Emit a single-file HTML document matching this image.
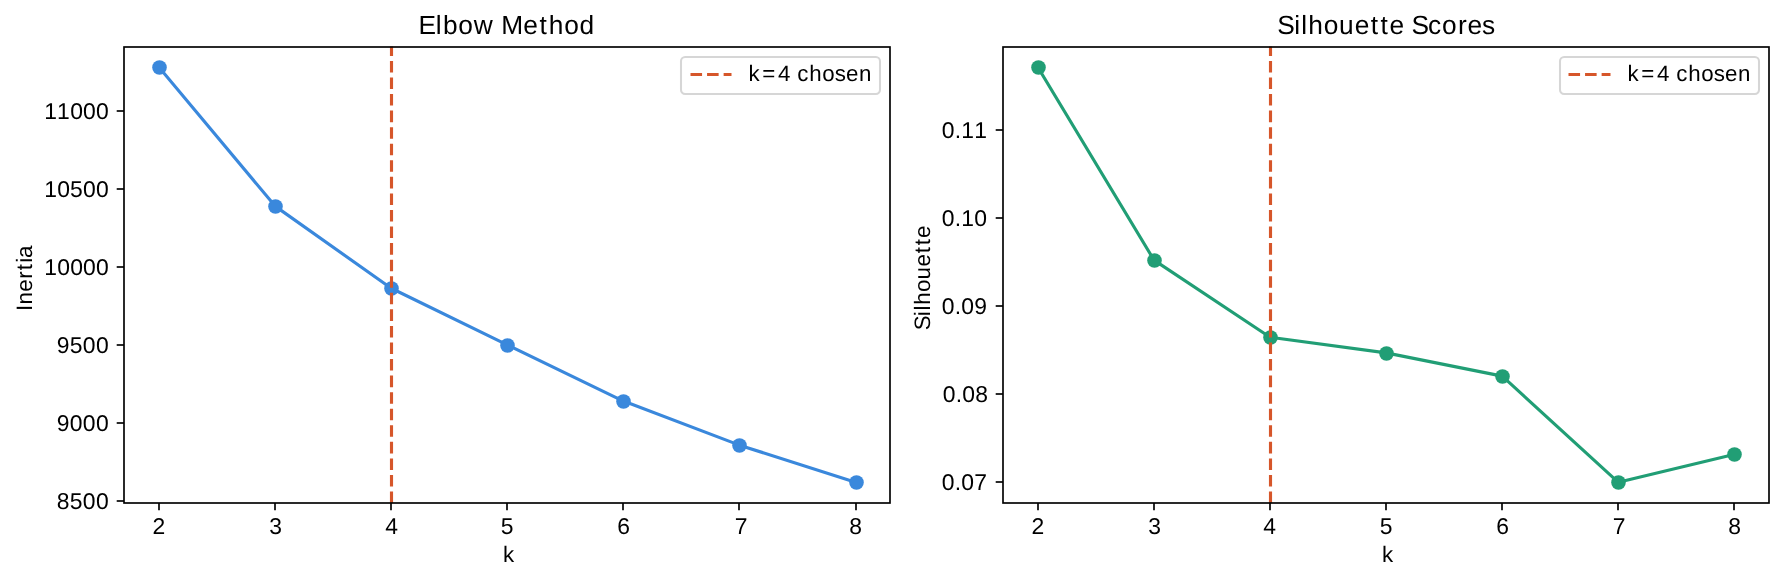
<!DOCTYPE html>
<html><head><meta charset="utf-8"><title>Elbow Method and Silhouette Scores</title>
<style>
html,body{margin:0;padding:0;background:#fff;width:1784px;height:581px;overflow:hidden}
svg{display:block;will-change:transform}
text{font-family:"Liberation Sans",sans-serif;fill:#000;text-rendering:geometricPrecision}
</style></head><body>
<svg width="1784" height="581" viewBox="0 0 1784 581">
<rect x="0" y="0" width="1784" height="581" fill="#fff"/>
<polyline points="158.99,67.25 275.08,206.12 391.17,288.26 507.26,344.89 623.34,401.07 739.43,445.14 855.52,482.33" fill="none" stroke="#3a88dc" stroke-width="3.125" stroke-linejoin="round" stroke-linecap="square"/>
<circle cx="159.5" cy="67.5" r="7.29" fill="#3a88dc"/>
<circle cx="275.5" cy="206.5" r="7.29" fill="#3a88dc"/>
<circle cx="391.5" cy="288.5" r="7.29" fill="#3a88dc"/>
<circle cx="507.5" cy="345.5" r="7.29" fill="#3a88dc"/>
<circle cx="623.5" cy="401.5" r="7.29" fill="#3a88dc"/>
<circle cx="739.5" cy="445.5" r="7.29" fill="#3a88dc"/>
<circle cx="856.5" cy="482.5" r="7.29" fill="#3a88dc"/>
<line x1="391.5" y1="503.08" x2="391.5" y2="46.5" stroke="#d6562a" stroke-width="3.125" stroke-dasharray="11.5625 5"/>
<line x1="159" y1="503" x2="159" y2="510.3" stroke="#000" stroke-width="1.6667"/>
<line x1="275" y1="503" x2="275" y2="510.3" stroke="#000" stroke-width="1.6667"/>
<line x1="391" y1="503" x2="391" y2="510.3" stroke="#000" stroke-width="1.6667"/>
<line x1="507" y1="503" x2="507" y2="510.3" stroke="#000" stroke-width="1.6667"/>
<line x1="623" y1="503" x2="623" y2="510.3" stroke="#000" stroke-width="1.6667"/>
<line x1="739" y1="503" x2="739" y2="510.3" stroke="#000" stroke-width="1.6667"/>
<line x1="856" y1="503" x2="856" y2="510.3" stroke="#000" stroke-width="1.6667"/>
<line x1="116.7" y1="111" x2="124" y2="111" stroke="#000" stroke-width="1.6667" transform="translate(0,0)"/>
<line x1="116.7" y1="189" x2="124" y2="189" stroke="#000" stroke-width="1.6667" transform="translate(0,0)"/>
<line x1="116.7" y1="267" x2="124" y2="267" stroke="#000" stroke-width="1.6667" transform="translate(0,0)"/>
<line x1="116.7" y1="345" x2="124" y2="345" stroke="#000" stroke-width="1.6667" transform="translate(0,0)"/>
<line x1="116.7" y1="423" x2="124" y2="423" stroke="#000" stroke-width="1.6667" transform="translate(0,0)"/>
<line x1="116.7" y1="501" x2="124" y2="501" stroke="#000" stroke-width="1.6667" transform="translate(0,0)"/>
<rect x="124" y="47" width="766" height="456" fill="none" stroke="#000" stroke-width="1.6667"/>
<rect x="681" y="57" width="199" height="37" rx="4.17" ry="4.17" fill="#fff" stroke="#d6d6d6" stroke-width="2.0833"/>
<line x1="690.5" y1="74.5" x2="731.5" y2="74.5" stroke="#d6562a" stroke-width="3.125" stroke-dasharray="11.5625 5"/>
<polyline points="1037.9,67.25 1153.99,260.08 1270.07,337.2 1386.16,352.9 1502.25,376.12 1618.34,482.33 1734.42,454.43" fill="none" stroke="#219e75" stroke-width="3.125" stroke-linejoin="round" stroke-linecap="square"/>
<circle cx="1038.5" cy="67.5" r="7.29" fill="#219e75"/>
<circle cx="1154.5" cy="260.5" r="7.29" fill="#219e75"/>
<circle cx="1270.5" cy="337.5" r="7.29" fill="#219e75"/>
<circle cx="1386.5" cy="353.5" r="7.29" fill="#219e75"/>
<circle cx="1502.5" cy="376.5" r="7.29" fill="#219e75"/>
<circle cx="1618.5" cy="482.5" r="7.29" fill="#219e75"/>
<circle cx="1734.5" cy="454.5" r="7.29" fill="#219e75"/>
<line x1="1270.5" y1="503.08" x2="1270.5" y2="46.5" stroke="#d6562a" stroke-width="3.125" stroke-dasharray="11.5625 5"/>
<line x1="1038" y1="503" x2="1038" y2="510.3" stroke="#000" stroke-width="1.6667"/>
<line x1="1154" y1="503" x2="1154" y2="510.3" stroke="#000" stroke-width="1.6667"/>
<line x1="1270" y1="503" x2="1270" y2="510.3" stroke="#000" stroke-width="1.6667"/>
<line x1="1386" y1="503" x2="1386" y2="510.3" stroke="#000" stroke-width="1.6667"/>
<line x1="1502" y1="503" x2="1502" y2="510.3" stroke="#000" stroke-width="1.6667"/>
<line x1="1618" y1="503" x2="1618" y2="510.3" stroke="#000" stroke-width="1.6667"/>
<line x1="1734" y1="503" x2="1734" y2="510.3" stroke="#000" stroke-width="1.6667"/>
<line x1="116.7" y1="130" x2="124" y2="130" stroke="#000" stroke-width="1.6667" transform="translate(879,0)"/>
<line x1="116.7" y1="218" x2="124" y2="218" stroke="#000" stroke-width="1.6667" transform="translate(879,0)"/>
<line x1="116.7" y1="306" x2="124" y2="306" stroke="#000" stroke-width="1.6667" transform="translate(879,0)"/>
<line x1="116.7" y1="394" x2="124" y2="394" stroke="#000" stroke-width="1.6667" transform="translate(879,0)"/>
<line x1="116.7" y1="482" x2="124" y2="482" stroke="#000" stroke-width="1.6667" transform="translate(879,0)"/>
<rect x="1003" y="47" width="766" height="456" fill="none" stroke="#000" stroke-width="1.6667"/>
<rect x="1560" y="57" width="199" height="37" rx="4.17" ry="4.17" fill="#fff" stroke="#d6d6d6" stroke-width="2.0833"/>
<line x1="1568.5" y1="74.5" x2="1610.5" y2="74.5" stroke="#d6562a" stroke-width="3.125" stroke-dasharray="11.5625 5"/>
<text x="418.51 435.8 442.9 458.28 473.87 493.55 501.3 523.37 539.46 548.67 564.14 579.51" y="34" font-size="26.3">Elbow Method</text>
<text x="1277.32 1294.34 1301.24 1308.2 1323.64 1339.05 1354.67 1370.72 1380.46 1389.43 1404.29 1411.51 1427.97 1441.94 1457.99 1467.44 1481.88" y="34" font-size="26.3">Silhouette Scores</text>
<text x="503.1" y="562" font-size="22.3">k</text>
<text x="1382.1" y="562" font-size="22.3">k</text>
<text x="748.6 762.27 777.95 790.78 797.31 809.28 822.22 834.81 845.9 858.93" y="81" font-size="22.3">k=4 chosen</text>
<text x="1627.6 1641.27 1656.95 1669.78 1676.31 1688.28 1701.22 1713.81 1724.9 1737.93" y="81" font-size="22.3">k=4 chosen</text>
<text transform="translate(32,311) rotate(-90)" x="-0.02 6.45 19.17 32.37 40.77 48.28 52.93" y="0" font-size="22.3">Inertia</text>
<text transform="translate(930,329.5) rotate(-90)" x="-0.68 13.39 19.06 24.72 37.41 50.08 62.92 76.16 84.16 91.49" y="0" font-size="22.3">Silhouette</text>
<text x="152.47" y="534" font-size="22.9">2</text>
<text x="269.26" y="534" font-size="22.9">3</text>
<text x="385.26" y="534" font-size="22.9">4</text>
<text x="500.68" y="534" font-size="22.9">5</text>
<text x="617.25" y="534" font-size="22.9">6</text>
<text x="734.71" y="534" font-size="22.9">7</text>
<text x="849.26" y="534" font-size="22.9">8</text>
<text x="1031.47" y="534" font-size="22.9">2</text>
<text x="1148.26" y="534" font-size="22.9">3</text>
<text x="1263.26" y="534" font-size="22.9">4</text>
<text x="1379.68" y="534" font-size="22.9">5</text>
<text x="1496.25" y="534" font-size="22.9">6</text>
<text x="1612.71" y="534" font-size="22.9">7</text>
<text x="1728.26" y="534" font-size="22.9">8</text>
<text x="44.15 57.11 70.15 83.11 96.08" y="119" font-size="22.9">11000</text>
<text x="44.15 57.19 70.1 83.11 96.08" y="197" font-size="22.9">10500</text>
<text x="44.15 57.19 70.15 83.11 96.08" y="275" font-size="22.9">10000</text>
<text x="56.65 69.75 82.87 95.95" y="353" font-size="22.9">9500</text>
<text x="56.65 69.8 82.87 95.95" y="431" font-size="22.9">9000</text>
<text x="56.76 69.75 82.87 95.95" y="509" font-size="22.9">8500</text>
<text x="941.73 954.64 961.21 974.26" y="138" font-size="22.9">0.11</text>
<text x="941.73 954.64 961.21 974.33" y="226" font-size="22.9">0.10</text>
<text x="941.73 954.64 961.29 974.26" y="314" font-size="22.9">0.09</text>
<text x="942.73 955.64 962.29 975.36" y="402" font-size="22.9">0.08</text>
<text x="941.73 954.64 961.29 974.31" y="490" font-size="22.9">0.07</text>
</svg>
</body></html>
